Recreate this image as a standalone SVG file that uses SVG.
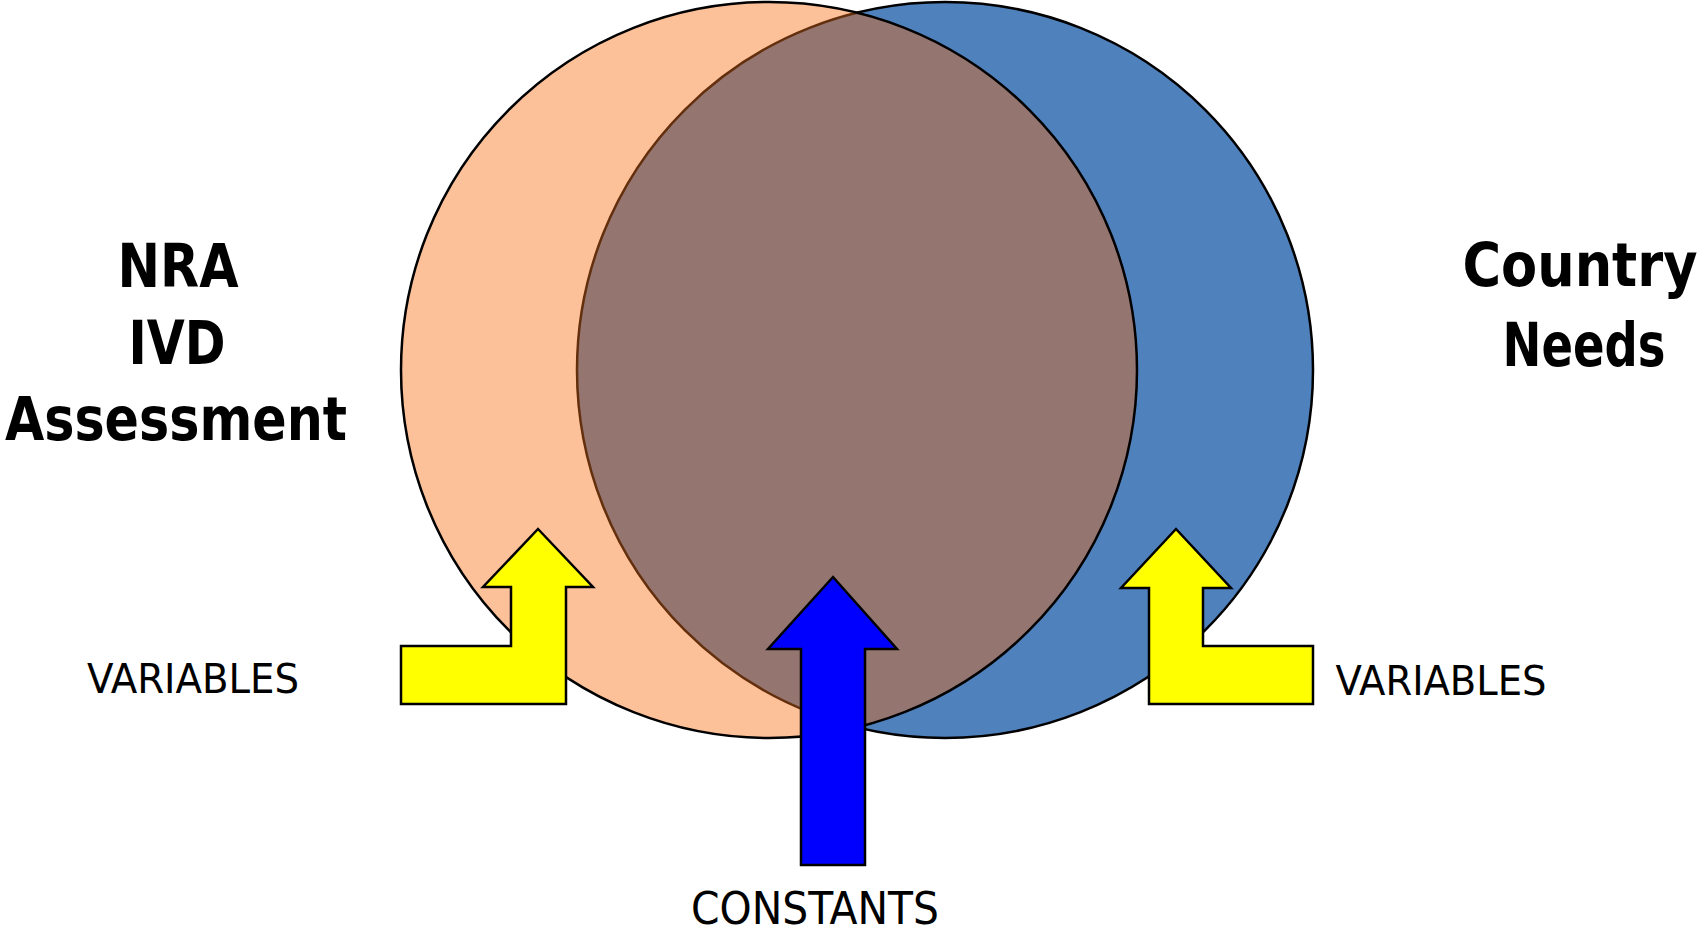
<svg xmlns="http://www.w3.org/2000/svg" width="1701" height="936" viewBox="0 0 1701 936">
<style>
.bold{font-family:"DejaVu Sans Condensed","DejaVu Sans","Liberation Sans",sans-serif;font-stretch:condensed;font-weight:bold;font-size:60px;fill:#000}
.reg{font-family:"DejaVu Sans Condensed","DejaVu Sans","Liberation Sans",sans-serif;font-stretch:condensed;font-size:40px;fill:#000}
.arrow{stroke:#000;stroke-width:2.5;stroke-linejoin:miter}
</style>
<defs>
<clipPath id="clipL"><circle cx="769" cy="370" r="368"/></clipPath>
</defs>
<rect width="1701" height="936" fill="#fff"/>
<g id="country-circle">
<circle cx="945" cy="370" r="368" fill="#4F81BD" stroke="#000" stroke-width="2.5"/>
</g>
<g id="nra-circle">
<circle cx="769" cy="370" r="368" fill="#FDC19A"/>
<circle cx="945" cy="370" r="368" fill="#947570" stroke="#632F0D" stroke-width="2.5" clip-path="url(#clipL)"/>
<circle cx="769" cy="370" r="368" fill="none" stroke="#000" stroke-width="2.5"/>
</g>
<g id="connectors">
<polygon id="arrow-left" class="arrow" fill="#FFFF00" points="538,529 593,587 566,587 566,704 401,704 401,646 511,646 511,587 483,587"/>
<polygon id="arrow-right" class="arrow" fill="#FFFF00" points="1176,529 1231,588 1203,588 1203,646 1313,646 1313,704 1149,704 1149,588 1121,588"/>
<polygon id="arrow-center" class="arrow" fill="#0000FF" points="833,577 897,649 865,649 865,865 801,865 801,649 768,649"/>
</g>
<g id="label-nra">
<text class="bold" x="178" y="287" text-anchor="middle" textLength="121" lengthAdjust="spacingAndGlyphs">NRA</text>
<text class="bold" x="177" y="364" text-anchor="middle" textLength="97" lengthAdjust="spacingAndGlyphs">IVD</text>
<text class="bold" x="176" y="440" text-anchor="middle" textLength="342" lengthAdjust="spacingAndGlyphs">Assessment</text>
</g>
<g id="label-country">
<text class="bold" x="1580" y="286" text-anchor="middle" textLength="235" lengthAdjust="spacingAndGlyphs">Country</text>
<text class="bold" x="1584" y="366" text-anchor="middle" textLength="163" lengthAdjust="spacingAndGlyphs">Needs</text>
</g>
<g id="label-variables-left">
<text class="reg" x="193" y="693" text-anchor="middle" textLength="212" lengthAdjust="spacingAndGlyphs">VARIABLES</text>
</g>
<g id="label-variables-right">
<text class="reg" x="1441" y="695" text-anchor="middle" textLength="211" lengthAdjust="spacingAndGlyphs">VARIABLES</text>
</g>
<g id="label-constants">
<text class="reg" style="font-size:44px" x="815" y="924" text-anchor="middle" textLength="248" lengthAdjust="spacingAndGlyphs">CONSTANTS</text>
</g>
</svg>
